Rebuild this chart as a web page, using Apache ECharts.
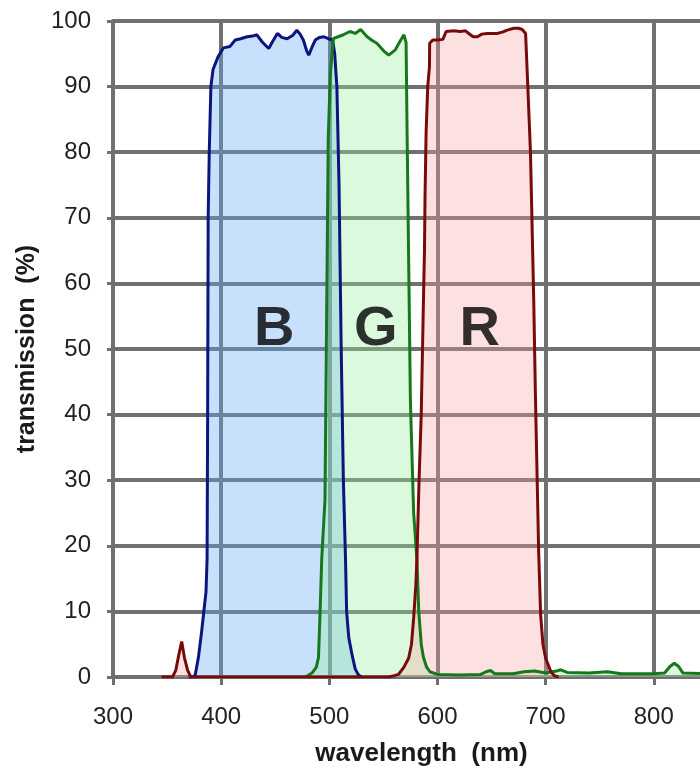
<!DOCTYPE html>
<html>
<head>
<meta charset="utf-8">
<script src="https://cdn.jsdelivr.net/npm/echarts@6/dist/echarts.min.js"></script>
<style>
  html, body { margin: 0; padding: 0; background: #ffffff; overflow: hidden; }
  /* a bit wider than the window: the plot is cropped on the right like the original */
  #chart { width: 710px; height: 772px; }
</style>
</head>
<body>
<div id="chart"></div>
<script>
// wavelength (nm), transmission (%)
var blueCurve = [
  [370, 0], [374, 0], [376, 0.3], [379, 3], [382, 7], [384, 10], [386, 13], [387, 18],
  [387.5, 40], [388, 70], [389, 80], [390.5, 90], [392.5, 92.6], [397, 94.5], [402, 95.9],
  [408, 96.1], [413, 97.1], [418, 97.3], [424, 97.6], [429, 97.7], [433, 97.9], [438, 96.8],
  [444, 95.8], [448, 97], [452, 98.1], [456, 97.5], [461, 97.3], [466, 97.8], [470, 98.6],
  [473, 98], [476, 97.1], [479, 95.5], [481, 94.8], [484, 96], [487, 97.1], [491, 97.5],
  [495, 97.6], [499, 97.3], [503, 97.1], [505, 95], [507, 90], [509, 75], [511, 50],
  [513, 30], [515, 18], [516, 10], [518, 6], [521, 3.4], [524, 1.2], [527, 0.3], [530, 0]
];
var greenCurve = [
  [478, 0], [484, 0.6], [488, 1.5], [490, 3], [491.5, 10], [493, 18], [496, 27], [499, 82],
  [501, 92], [503.7, 97.3], [508, 97.6], [513, 97.9], [519, 98.4], [524, 98.1], [529, 98.7],
  [535, 97.6], [540, 97], [544, 96.6], [550, 95.5], [555, 94.8], [561, 95.6], [565, 96.8],
  [569, 97.9], [571, 96.7], [572, 82], [575, 42], [578, 25], [581, 18], [582.7, 10],
  [585, 5], [587, 3], [590, 1.5], [593, 0.8], [600, 0.4], [620, 0.3], [640, 0.4], [645, 0.8],
  [649, 1], [653, 0.5], [670, 0.5], [680, 0.8], [690, 0.9], [700, 0.6], [710, 0.9],
  [714, 1.1], [720, 0.7], [740, 0.6], [757, 0.8], [770, 0.5], [800, 0.5], [810, 0.6],
  [815, 1.6], [819, 2.1], [823, 1.6], [827, 0.6], [852, 0.5]
];
var redCurve = [
  [345, 0], [355, 0], [358, 1], [361, 3.5], [363.5, 5.4], [366, 3], [369, 1], [372, 0],
  [555, 0], [560, 0.2], [564, 0.4], [569, 1.5], [573.4, 2.9], [576, 5], [578, 9], [580, 14],
  [581, 18], [583, 30], [585, 40], [587, 57], [588, 65], [588.5, 73], [589.5, 83], [591, 90],
  [592.6, 93], [592.8, 96.6], [595.7, 97.1], [600, 97.1], [605, 97.2], [608, 98.4],
  [615, 98.5], [621, 98.4], [626, 98.5], [629, 98.1], [633, 97.6], [637, 97.6], [641, 98],
  [646, 98.1], [650, 98.1], [655, 98.1], [660, 98.3], [664.5, 98.6], [670.7, 98.9],
  [675, 98.9], [678.4, 98.7], [681.5, 98.1], [683.3, 91], [686, 80], [689, 57.6],
  [690.7, 42], [692.6, 27], [693.5, 19.6], [695.4, 9.5], [697.5, 5], [700, 2.9],
  [704.6, 0.9], [708, 0.2], [712, 0]
];
// band letters: [wavelength, transmission, text]
var bandLabels = [[449, 53, "B"], [543, 53, "G"], [639, 53, "R"]];

var gridGray = "#707070";
var chart = echarts.init(document.getElementById("chart"));
chart.setOption({
  animation: false,
  textStyle: { fontFamily: "Liberation Sans, Arial, sans-serif" },
  grid: { left: 113, right: 0, top: 21, bottom: 93 },
  xAxis: {
    type: "value",
    min: 300,
    max: 852,
    interval: 100,
    name: "wavelength  (nm)",
    nameLocation: "middle",
    nameGap: 64,
    nameTextStyle: { fontSize: 26, fontWeight: "bold", color: "#1a1a1a", padding: [0, 0, 0, 20] },
    axisLine: { show: true, lineStyle: { color: gridGray, width: 4 } },
    axisTick: { show: true, length: 8, lineStyle: { color: gridGray, width: 3 } },
    axisLabel: { fontSize: 24, color: "#222", margin: 28, showMaxLabel: false },
    splitLine: { show: true, lineStyle: { color: gridGray, width: 4 } }
  },
  yAxis: {
    type: "value",
    min: 0,
    max: 100,
    interval: 10,
    name: "transmission  (%)",
    nameLocation: "middle",
    nameGap: 72,
    nameTextStyle: { fontSize: 25, fontWeight: "bold", color: "#1a1a1a" },
    axisLine: { show: true, lineStyle: { color: gridGray, width: 4 } },
    axisTick: { show: true, length: 6, lineStyle: { color: gridGray, width: 3 } },
    axisLabel: { fontSize: 24, color: "#222", margin: 22 },
    splitLine: { show: true, lineStyle: { color: gridGray, width: 4 } }
  },
  series: [
    {
      name: "B",
      type: "line",
      data: blueCurve,
      symbol: "none",
      lineStyle: { color: "#0c1480", width: 3 },
      areaStyle: { color: "rgba(95,170,248,0.5)" }
    },
    {
      name: "G",
      type: "line",
      data: greenCurve,
      symbol: "none",
      lineStyle: { color: "#16781a", width: 3 },
      areaStyle: { color: "rgba(150,238,160,0.5)" }
    },
    {
      name: "R",
      type: "line",
      data: redCurve,
      symbol: "none",
      lineStyle: { color: "#780a0a", width: 3 },
      areaStyle: { color: "rgba(248,160,160,0.45)" }
    },
    {
      type: "scatter",
      data: bandLabels,
      symbolSize: 0,
      z: 10,
      label: {
        show: true,
        position: "inside",
        formatter: function (p) { return p.value[2]; },
        fontSize: 56,
        fontWeight: "bold",
        color: "#000",
        textBorderWidth: 0
      }
    }
  ]
});
</script>
</body>
</html>
